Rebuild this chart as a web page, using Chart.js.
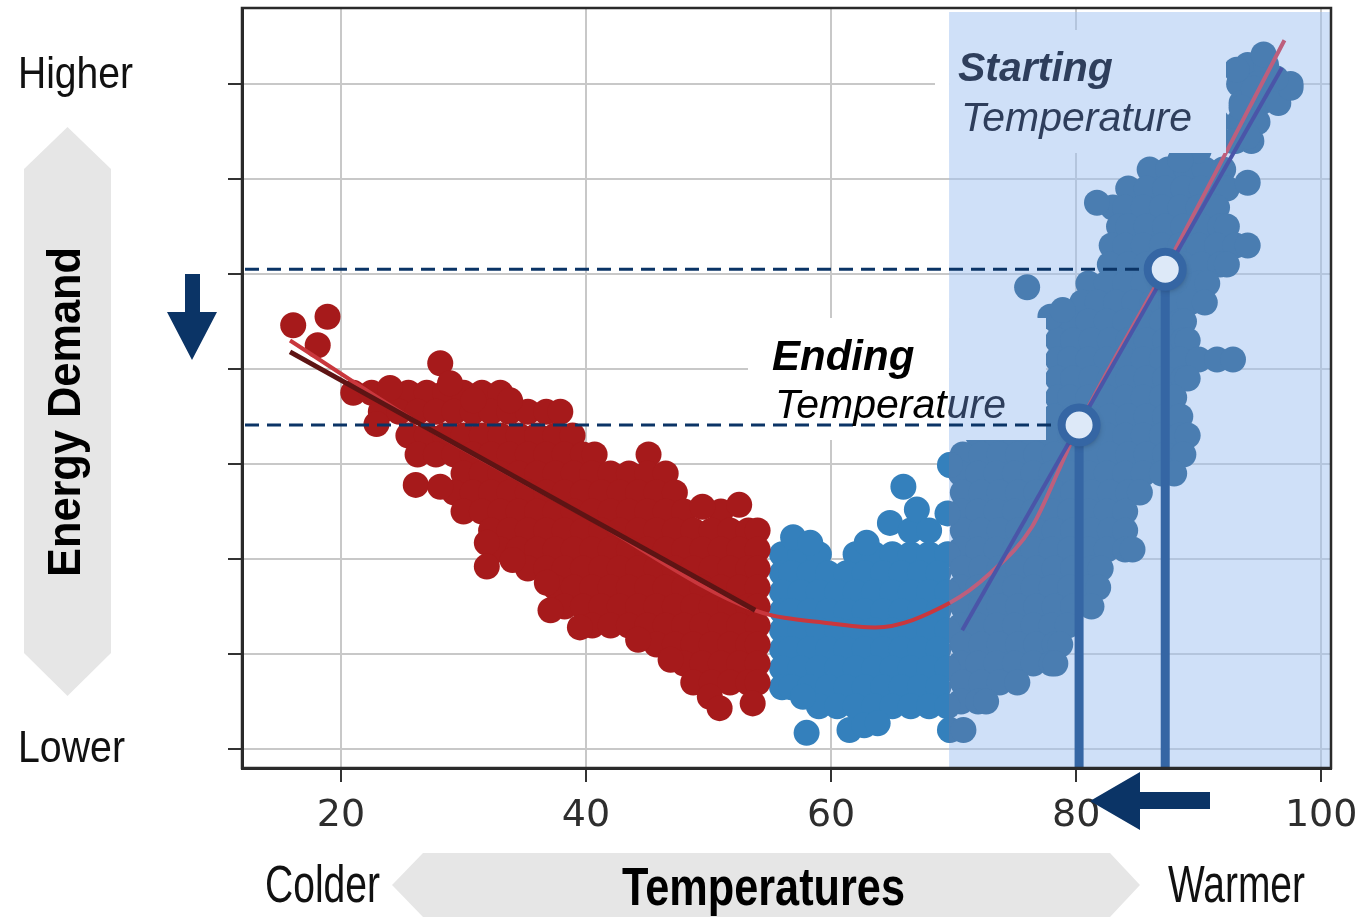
<!DOCTYPE html>
<html>
<head>
<meta charset="utf-8">
<title>Energy demand vs temperature</title>
<script src="https://cdn.jsdelivr.net/npm/chart.js@4.4.1/dist/chart.umd.min.js"></script>
<style>
    html, body { margin: 0; padding: 0; background: #fff; }
    #wrap { width: 1361px; height: 919px; }
</style>
</head>
<body>
<div id="wrap"><canvas id="myChart" width="1361" height="919"></canvas></div>
<script>
// axes
const xTicks = [20, 40, 60, 80, 100];
const yTicks = [0, 1, 2, 3, 4, 5, 6, 7];
const xMin = 11.92, xMax = 100.8, yMin = -0.2, yMax = 7.8;
const shadeFrom = 69.63;

// the two marked temperatures on the warm fit
const startTemp = 87.27, startDemand = 5.05;
const endTemp = 80.24, endDemand = 3.41;

// cold days (red), read row by row: [demand, [temperatures]]
const coldRows = [
    [3.75, [21, 22.5, 24, 25.5, 27, 28.5, 30, 31.5, 33]],
    [3.55, [23.25, 24.75, 26.25, 27.75, 29.25, 30.75, 32.25, 33.75, 35.25, 36.75, 37.9]],
    [3.3, [25.5, 27, 28.5, 30, 31.5, 33, 34.5, 36, 37.5, 38.9]],
    [3.1, [26.25, 27.75, 29.25, 30.75, 32.25, 33.75, 35.25, 36.75, 38.25, 39.75, 40.7, 45.1]],
    [2.9, [30, 31.5, 33, 34.5, 36, 37.5, 39, 40.5, 42, 43.5, 45, 46.5]],
    [2.7, [29.25, 30.75, 32.25, 33.75, 35.25, 36.75, 38.25, 39.75, 41.25, 42.75, 44.25, 45.75, 47.25]],
    [2.5, [30, 31.5, 33, 34.5, 36, 37.5, 39, 40.5, 42, 43.5, 45, 46.5, 48, 51]],
    [2.3, [32.25, 33.75, 35.25, 36.75, 38.25, 39.75, 41.25, 42.75, 44.25, 45.75, 47.25, 48.75, 50.25, 51.75, 53.25, 54]],
    [2.1, [33, 34.5, 36, 37.5, 39, 40.5, 42, 43.5, 45, 46.5, 48, 49.5, 51, 52.5, 54]],
    [1.9, [35.25, 36.75, 38.25, 39.75, 41.25, 42.75, 44.25, 45.75, 47.25, 48.75, 50.25, 51.75, 53.25, 54]],
    [1.7, [37.5, 39, 40.5, 42, 43.5, 45, 46.5, 48, 49.5, 51, 52.5, 54]],
    [1.5, [38.25, 39.75, 41.25, 42.75, 44.25, 45.75, 47.25, 48.75, 50.25, 51.75, 53.25, 54]],
    [1.3, [40.5, 42, 43.5, 45, 46.5, 48, 49.5, 51, 52.5, 54]],
    [1.1, [45.75, 47.25, 48.75, 50.25, 51.75, 53.25, 54]],
    [0.9, [48, 49.5, 51, 52.5, 54]],
    [0.7, [48.75, 50.25, 51.75, 53.25, 54]],
];
const coldExtra = [
    [16.1, 4.46], [18.9, 4.55], [18.1, 4.25], [24, 3.8], [28.1, 4.06], [28.9, 3.85],
    [30.8, 3.67], [33.8, 3.67], [22.9, 3.42], [26.1, 2.78], [28.1, 2.76], [49.5, 2.55],
    [52.5, 2.57], [31.9, 2.17], [31.9, 1.92], [34, 1.99], [36.8, 1.75], [37.1, 1.46],
    [39.5, 1.28], [44.25, 1.15], [46.9, 0.94], [50.1, 0.55], [50.9, 0.43], [53.6, 0.48],
];

// warm days (blue)
const warmRows = [
    [7.2, [94, 95.5]],
    [7.0, [93.3, 94.8, 96.3, 97.5]],
    [6.8, [93.5, 95, 96.5]],
    [6.6, [93.3, 94.8]],
    [6.4, [93, 94.3]],
    [6.1, [86, 87.5, 89, 90.5, 92]],
    [5.9, [84.25, 85.75, 87.25, 88.75, 90.25, 91.75, 92.3]],
    [5.7, [83, 84, 85.5, 87, 88.5, 90, 91.5]],
    [5.5, [83.5, 84.25, 85.75, 87.25, 88.75, 90.25, 91.75, 92.3]],
    [5.3, [82.9, 84, 85.5, 87, 88.5, 90, 91.5, 93, 94]],
    [5.1, [82.75, 84.25, 85.75, 87.25, 88.75, 90.25, 91.75, 92.3]],
    [4.9, [81, 82.5, 84, 85.5, 87, 88.5, 90, 90.7]],
    [4.7, [80.5, 81.75, 83.25, 84.75, 86.25, 87.75, 89.25, 90.5]],
    [4.5, [78.5, 79.5, 81, 82.5, 84, 85.5, 87, 88.5, 88.8]],
    [4.3, [78.5, 79.75, 81.25, 82.75, 84.25, 85.75, 87.25, 88.75, 89.1]],
    [4.1, [78.5, 79.5, 81, 82.5, 84, 85.5, 87, 88.5, 90, 91.5, 92.8]],
    [3.9, [78.5, 79.75, 81.25, 82.75, 84.25, 85.75, 87.25, 88.75, 89.1]],
    [3.7, [78.5, 79.5, 81, 82.5, 84, 85.5, 87, 88]],
    [3.5, [70.75, 72.25, 73.75, 75.25, 76.75, 78.25, 79.75, 81.25, 82.75, 84.25, 85.75, 87.25, 88.5]],
    [3.3, [72, 73.5, 75, 76.5, 78, 79.5, 81, 82.5, 84, 85.5, 87, 88.5, 89.1]],
    [3.1, [70.75, 72.25, 73.75, 75.25, 76.75, 78.25, 79.75, 81.25, 82.75, 84.25, 85.75, 87.25, 88.75]],
    [2.9, [70.6, 72, 73.5, 75, 76.5, 78, 79.5, 81, 82.5, 84, 85.5, 87, 88]],
    [2.7, [70.75, 72.25, 73.75, 75.25, 76.75, 78.25, 79.75, 81.25, 82.75, 84.25, 85.2]],
    [2.5, [70.6, 72, 73.5, 75, 76.5, 78, 79.5, 81, 82.5, 84]],
    [2.3, [70.75, 72.25, 73.75, 75.25, 76.75, 78.25, 79.75, 81.25, 82.75, 84]],
    [2.1, [70.6, 72, 73.5, 75, 76.5, 78, 79.5, 81, 82.5, 84, 84.6]],
    [2.05, [56, 57.5, 59, 62, 63.5, 65, 66.5, 68, 69.5]],
    [1.9, [70.75, 72.25, 73.75, 75.25, 76.75, 78.25, 79.75, 81.25, 82]],
    [1.85, [56, 56.75, 58.25, 59.75, 61.25, 62.75, 64.25, 65.75, 67.25, 68.75]],
    [1.7, [70.6, 72, 73.5, 75, 76.5, 78, 79.5, 81, 81.8]],
    [1.65, [56, 57.5, 59, 60.5, 62, 63.5, 65, 66.5, 68, 69.5]],
    [1.5, [70.75, 72.25, 73.75, 75.25, 76.75, 78.25, 79.75, 81.25]],
    [1.45, [56, 56.75, 58.25, 59.75, 61.25, 62.75, 64.25, 65.75, 67.25, 68.75]],
    [1.3, [70.6, 72, 73.5, 75, 76.5, 78, 79.3]],
    [1.25, [56, 57.5, 59, 60.5, 62, 63.5, 65, 66.5, 68, 69.5]],
    [1.1, [70.75, 72.25, 73.75, 75.25, 76.75, 78.25, 78.7]],
    [1.05, [56, 56.75, 58.25, 59.75, 61.25, 62.75, 64.25, 65.75, 67.25, 68.75]],
    [0.9, [70.6, 72, 73.5, 75, 76.5, 78, 78.3]],
    [0.85, [56, 57.5, 59, 60.5, 62, 63.5, 65, 66.5, 68, 69.5]],
    [0.7, [70.75, 72.25, 73.75, 75.2]],
    [0.65, [56, 56.75, 58.25, 59.75, 61.25, 62.75, 64.25, 65.75, 67.25, 68.75]],
    [0.5, [70.6, 72, 72.65]],
    [0.45, [59, 60.5, 62, 63.5, 65, 66.5, 68, 69.5]],
];
const warmExtra = [
    [56.9, 2.23], [58.3, 2.17], [62.9, 2.17], [64.8, 2.38], [65.9, 2.76], [66.5, 2.3],
    [67, 2.52], [68, 2.3], [69.5, 2.48], [69.7, 2.99], [57.7, 0.55], [58, 0.17],
    [61.5, 0.2], [62.7, 0.25], [63.8, 0.27], [69.7, 0.2], [70.8, 0.2],
    [95.3, 7.31], [93.1, 7.15], [97.5, 6.96], [96.3, 7.06], [94.5, 6.95], [93.5, 6.75],
    [94.6, 6.6], [92.8, 6.4], [94, 6.45], [91.5, 6.6], [90, 6.3], [88.5, 6.2],
    [94, 5.96], [81.7, 5.75], [76, 4.86], [77.9, 4.55], [78.9, 4.62],
];

// fitted lines
const seasonFit = [
    [15.84, 4.3], [26.45, 3.42], [39.92, 2.455], [53.8, 1.46], [60.08, 1.32], [63.6, 1.28],
    [69.7, 1.54], [72.98, 1.85], [76.4, 2.34], [78.7, 2.97], [80.24, 3.41], [87.27, 5.06], [97, 7.46],
];
const coldFit = [[15.84, 4.18], [53.8, 1.46]];
const warmFit = [[70.7, 1.25], [96.8, 7.17]];

function rowsToPoints(rows, extra) {
    let pts = [];
    rows.forEach(function (row) {
        row[1].forEach(function (x) {
            pts.push({ x: x, y: row[0] });
        });
    });
    extra.forEach(function (p) {
        pts.push({ x: p[0], y: p[1] });
    });
    return pts;
}
function toXY(list) {
    return list.map((p) => ({ x: p[0], y: p[1] }));
}

const coldPoints = rowsToPoints(coldRows, coldExtra);
const warmPoints = rowsToPoints(warmRows, warmExtra);

const SHADE_BG = "#cfe0f8";
const NAVY = "#0b3466";
const MARK_BLUE = "#3566a4";

function squeezeText(ctx, text, left, baseline, font, width, color) {
    ctx.save();
    ctx.font = font;
    const w = ctx.measureText(text).width;
    ctx.translate(left, baseline);
    ctx.scale(width / w, 1);
    ctx.fillStyle = color;
    ctx.textAlign = "left";
    ctx.textBaseline = "alphabetic";
    ctx.fillText(text, 0, 0);
    ctx.restore();
}

function polygon(ctx, pts, color) {
    ctx.beginPath();
    ctx.moveTo(pts[0][0], pts[0][1]);
    for (let i = 1; i < pts.length; i++) ctx.lineTo(pts[i][0], pts[i][1]);
    ctx.closePath();
    ctx.fillStyle = color;
    ctx.fill();
}

function labelBox(ctx, x0, y0, x1, y1, split) {
    ctx.fillStyle = "#ffffff";
    ctx.fillRect(x0, y0, split - x0, y1 - y0);
    ctx.fillStyle = SHADE_BG;
    ctx.fillRect(split, y0, x1 - split, y1 - y0);
}

const overlay = {
    id: "overlay",
    beforeDatasetsDraw(chart) {
        const { ctx, chartArea: a, scales } = chart;
        const sx = scales.x.getPixelForValue(shadeFrom);
        ctx.save();
        ctx.fillStyle = "rgba(159, 193, 241, 0.5)";
        ctx.fillRect(sx, a.top + 4, a.right - sx, a.bottom - a.top - 4);
        ctx.restore();
    },
    beforeDatasetDraw(chart, args) {
        const side = chart.data.datasets[args.index].clipSide;
        if (!side) return;
        const ctx = chart.ctx;
        const sx = chart.scales.x.getPixelForValue(shadeFrom);
        ctx.save();
        ctx.beginPath();
        if (side === "left") ctx.rect(0, 0, sx, chart.height);
        else ctx.rect(sx, 0, chart.width - sx, chart.height);
        ctx.clip();
    },
    afterDatasetDraw(chart, args) {
        if (chart.data.datasets[args.index].clipSide) chart.ctx.restore();
    },
    afterDatasetsDraw(chart) {
        const { ctx, chartArea: a, scales } = chart;
        const sx = scales.x.getPixelForValue(shadeFrom);
        const px1 = scales.x.getPixelForValue(startTemp);
        const py1 = scales.y.getPixelForValue(startDemand);
        const px2 = scales.x.getPixelForValue(endTemp);
        const py2 = scales.y.getPixelForValue(endDemand);
        ctx.save();

        // label boxes
        labelBox(ctx, 935, 30, 1226, 153, sx);
        labelBox(ctx, 748, 318, 1046, 440, sx);

        // dashed guides
        ctx.strokeStyle = NAVY;
        ctx.lineWidth = 3;
        ctx.setLineDash([14, 8]);
        ctx.beginPath();
        ctx.moveTo(a.left + 3, py1);
        ctx.lineTo(px1 - 24, py1);
        ctx.moveTo(a.left + 3, py2);
        ctx.lineTo(px2 - 24, py2);
        ctx.stroke();
        ctx.setLineDash([]);

        // drop lines
        ctx.strokeStyle = MARK_BLUE;
        ctx.lineWidth = 9;
        ctx.beginPath();
        ctx.moveTo(px1, py1);
        ctx.lineTo(px1, a.bottom);
        ctx.moveTo(px2, py2);
        ctx.lineTo(px2, a.bottom);
        ctx.stroke();

        // markers
        [[px1, py1], [px2, py2]].forEach(function (p) {
            ctx.save();
            ctx.shadowColor = "rgba(0,0,0,0.35)";
            ctx.shadowBlur = 6;
            ctx.shadowOffsetX = 2;
            ctx.shadowOffsetY = 3;
            ctx.beginPath();
            ctx.arc(p[0], p[1], 17.5, 0, Math.PI * 2);
            ctx.fillStyle = "#dde9f8";
            ctx.fill();
            ctx.restore();
            ctx.beginPath();
            ctx.arc(p[0], p[1], 17.5, 0, Math.PI * 2);
            ctx.lineWidth = 8;
            ctx.strokeStyle = MARK_BLUE;
            ctx.stroke();
        });

        // box texts
        ctx.textAlign = "left";
        ctx.textBaseline = "alphabetic";
        ctx.fillStyle = "#2e3e5c";
        ctx.font = 'italic bold 41px "Liberation Sans", Arial, sans-serif';
        ctx.fillText("Starting", 958, 81);
        ctx.font = 'italic 41px "Liberation Sans", Arial, sans-serif';
        ctx.fillText("Temperature", 961, 131);

        ctx.fillStyle = "#000";
        ctx.font = 'italic bold 42px "Liberation Sans", Arial, sans-serif';
        ctx.fillText("Ending", 772, 370);
        ctx.font = 'italic 41px "Liberation Sans", Arial, sans-serif';
        ctx.save();
        ctx.beginPath();
        ctx.rect(0, 0, sx, chart.height);
        ctx.clip();
        ctx.fillStyle = "#000";
        ctx.fillText("Temperature", 775, 418);
        ctx.restore();
        ctx.save();
        ctx.beginPath();
        ctx.rect(sx, 0, chart.width - sx, chart.height);
        ctx.clip();
        ctx.fillStyle = "#2e3e5c";
        ctx.fillText("Temperature", 775, 418);
        ctx.restore();

        // frame
        ctx.strokeStyle = "#2a2a2a";
        ctx.lineWidth = 2.5;
        ctx.strokeRect(a.left, a.top, a.right - a.left, a.bottom - a.top);
        ctx.restore();
    },
    afterDraw(chart) {
        const ctx = chart.ctx;
        ctx.save();
        const sans = '"Liberation Sans", Arial, sans-serif';

        // vertical hex arrow
        polygon(ctx, [[67.5, 127], [111, 169], [111, 653], [67.5, 696], [24, 653], [24, 169]], "#e6e6e6");
        ctx.save();
        ctx.translate(80, 577);
        ctx.rotate(-Math.PI / 2);
        ctx.font = "bold 46px " + sans;
        const w = ctx.measureText("Energy Demand").width;
        ctx.scale(330 / w, 1);
        ctx.fillStyle = "#000";
        ctx.fillText("Energy Demand", 0, 0);
        ctx.restore();

        squeezeText(ctx, "Higher", 18, 88, "44px " + sans, 115, "#111");
        squeezeText(ctx, "Lower", 18, 762, "44px " + sans, 107, "#111");

        // horizontal hex arrow
        polygon(ctx, [[392, 885], [423, 853], [1110, 853], [1140, 885], [1110, 917], [423, 917]], "#e6e6e6");
        squeezeText(ctx, "Temperatures", 622, 905, "bold 53px " + sans, 283, "#000");
        squeezeText(ctx, "Colder", 265, 902, "51px " + sans, 115, "#111");
        squeezeText(ctx, "Warmer", 1168, 902, "51px " + sans, 137, "#111");

        // arrows
        polygon(ctx, [[185, 274], [200, 274], [200, 312], [217, 312], [192, 360], [167, 312], [185, 312]], NAVY);
        polygon(ctx, [[1090, 801], [1140, 772], [1140, 792], [1210, 792], [1210, 809], [1140, 809], [1140, 830]], NAVY);
        ctx.restore();
    },
};

const ctx = document.getElementById("myChart").getContext("2d");
const myChart = new Chart(ctx, {
    type: "scatter",
    data: {
        datasets: [
            {
                label: "Cold fit",
                data: toXY(coldFit),
                showLine: true,
                borderColor: "#5e1414",
                borderWidth: 5,
                pointRadius: 0,
                order: 0,
            },
            {
                label: "Warm fit",
                data: toXY(warmFit),
                showLine: true,
                borderColor: "#4a55a8",
                borderWidth: 4,
                pointRadius: 0,
                order: 1,
            },
            {
                label: "Season fit",
                data: toXY(seasonFit),
                showLine: true,
                cubicInterpolationMode: "monotone",
                borderColor: "#c9373d",
                borderWidth: 4,
                pointRadius: 0,
                segment: {
                    borderColor: (c) => (c.p0.parsed.x >= shadeFrom ? "#bd5f7d" : "#c9373d"),
                },
                order: 2,
            },
            {
                label: "Cold days",
                data: coldPoints,
                backgroundColor: "#a61a1b",
                borderWidth: 0,
                pointRadius: 13,
                order: 3,
            },
            {
                label: "Warm days (window)",
                data: warmPoints,
                backgroundColor: "#4a7db1",
                borderWidth: 0,
                pointRadius: 13,
                clipSide: "right",
                order: 4,
            },
            {
                label: "Warm days",
                data: warmPoints,
                backgroundColor: "#3480bc",
                borderWidth: 0,
                pointRadius: 13,
                clipSide: "left",
                order: 5,
            },
        ],
    },
    options: {
        responsive: false,
        animation: false,
        events: [],
        layout: { autoPadding: false, padding: { top: 8, right: 30, bottom: 0, left: 0 } },
        plugins: {
            legend: { display: false },
            tooltip: { enabled: false },
        },
        scales: {
            x: {
                type: "linear",
                min: xMin,
                max: xMax,
                afterBuildTicks: (s) => {
                    s.ticks = xTicks.map((v) => ({ value: v }));
                },
                afterFit: (s) => {
                    s.height = 151;
                    s.paddingLeft = 0;
                    s.paddingRight = 0;
                },
                ticks: {
                    color: "#2e2e2e",
                    font: { family: "DejaVu Sans", size: 38 },
                    padding: 11,
                    maxRotation: 0,
                },
                grid: { color: "#c8c8c8", lineWidth: 2, tickLength: 14, tickColor: "#333", tickWidth: 2 },
                border: { color: "#2a2a2a", width: 3 },
            },
            y: {
                type: "linear",
                min: yMin,
                max: yMax,
                afterBuildTicks: (s) => {
                    s.ticks = yTicks.map((v) => ({ value: v }));
                },
                afterFit: (s) => {
                    s.width = 242;
                    s.paddingTop = 0;
                    s.paddingBottom = 0;
                },
                ticks: { display: false },
                grid: { color: "#c8c8c8", lineWidth: 2, tickLength: 14, tickColor: "#333", tickWidth: 2 },
                border: { color: "#2a2a2a", width: 3 },
            },
        },
    },
    plugins: [overlay],
});
</script>
</body>
</html>
